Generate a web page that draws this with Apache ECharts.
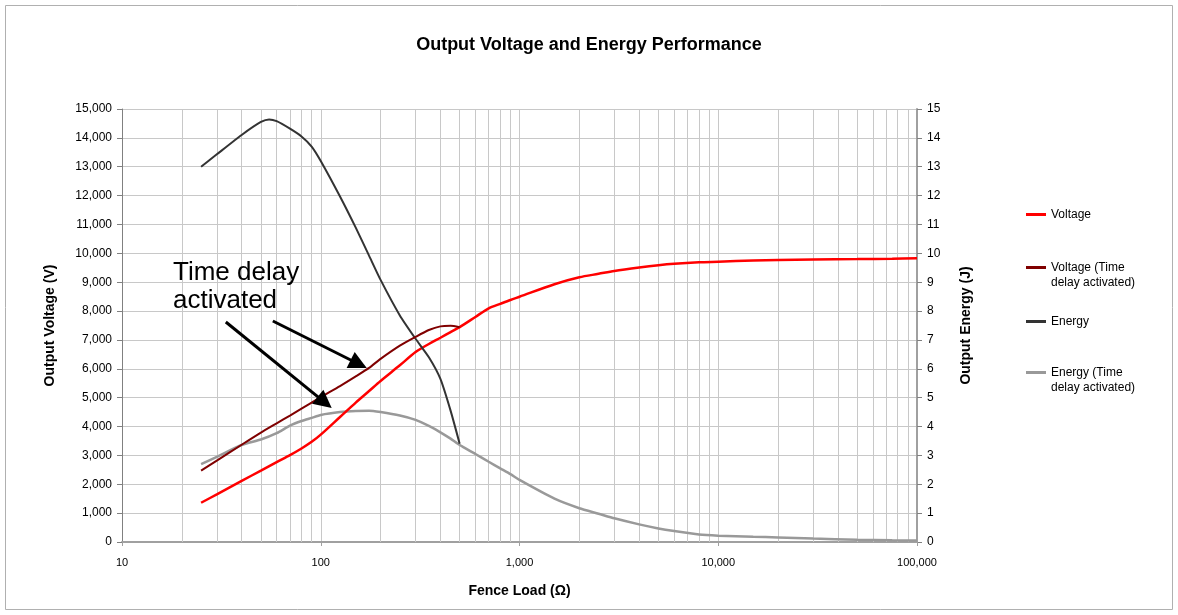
<!DOCTYPE html>
<html><head><meta charset="utf-8">
<script src="https://cdn.jsdelivr.net/npm/echarts@6/dist/echarts.min.js"></script>
<style>html,body{margin:0;padding:0;background:#fff}#c{width:1178px;height:615px}</style>
</head><body><div id="c"></div>
<script>
// Fence load (ohm) for Voltage and Energy (Time delay activated)
const loads = [25,30,40,50,60,70,80,90,100,125,150,175,200,250,300,350,400,450,500,600,700,800,900,1000,1500,2000,2500,3000,4000,5000,6000,8000,10000,15000,20000,30000,50000,75000,100000];
const voltage = [1360,1650,2115,2474,2770,3010,3240,3470,3720,4330,4830,5230,5580,6120,6580,6860,7075,7272,7445,7797,8095,8250,8385,8497,8930,9170,9290,9390,9510,9590,9640,9690,9710,9750,9770,9790,9800,9815,9830];
const energyTD = [2.70,2.95,3.36,3.55,3.77,4.03,4.19,4.30,4.40,4.50,4.54,4.55,4.50,4.38,4.23,4.02,3.80,3.58,3.36,3.05,2.78,2.55,2.35,2.15,1.50,1.17,0.98,0.82,0.61,0.47,0.38,0.26,0.22,0.18,0.16,0.12,0.08,0.06,0.05];
// Voltage (Time delay activated)
const tdLoads = [25,30,40,50,60,70,80,90,100,125,150,175,200,250,300,350,400,450,500];
const voltageTD = [2470,2820,3370,3790,4110,4380,4620,4830,5020,5400,5735,6030,6345,6803,7106,7344,7470,7490,7440];
// Energy
const energyLoads = [25,30,40,50,55,60,70,80,90,100,125,150,175,200,250,300,350,400,450,500];
const energy = [13.0,13.43,14.1,14.55,14.64,14.58,14.32,14.05,13.7,13.2,11.97,10.89,9.92,9.08,7.85,7.04,6.4,5.65,4.55,3.4];
// minor vertical grid values
const minorGridX = [20,30,40,50,60,70,80,90,200,300,400,500,600,700,800,900,2000,3000,4000,5000,6000,7000,8000,9000,20000,30000,40000,50000,60000,70000,80000,90000];
// annotation arrows [from, to] in data coords (load, volts)
const arrows = [[[33.3,7620],[104.7,4839]],[[57.4,7655],[155.2,6166]]];
const annotation = 'Time delay\nactivated';

const FONT = '"Liberation Sans", Arial, sans-serif';
const fmt = v => Number(v).toLocaleString('en-US');
const pair = (xs, ys) => xs.map((x,i)=>[x, ys[i]]);

const chart = echarts.init(document.getElementById('c'), null, {renderer:'canvas'});
const legendBase = {orient:'vertical', left:1021, itemWidth:20, itemHeight:3, icon:'rect',
  textStyle:{fontFamily:FONT, fontSize:12, color:'#000', lineHeight:15},
  formatter: n => n.indexOf(' (Time delay') >= 0 ? '\n' + n.replace(' (Time delay', ' (Time\ndelay') : n,
  selectedMode:false};
chart.setOption({
  animation:false,
  backgroundColor:'#fff',
  title:{text:'Output Voltage and Energy Performance', left:'center', top:36, padding:0,
    textStyle:{fontFamily:FONT, fontSize:18, fontWeight:'bold', color:'#000'}},
  grid:{left:122, right:261, top:109, bottom:73, containLabel:false},
  legend:[
    Object.assign({}, legendBase, {top:202, data:['Voltage']}),
    Object.assign({}, legendBase, {top:240, data:['Voltage (Time delay activated)']}),
    Object.assign({}, legendBase, {top:309, data:['Energy']}),
    Object.assign({}, legendBase, {top:345, data:['Energy (Time delay activated)']})
  ],
  xAxis:{type:'log', logBase:10, min:10, max:100000,
    name:'Fence Load (Ω)', nameLocation:'middle', nameGap:42,
    nameTextStyle:{fontFamily:FONT, fontSize:14, fontWeight:'bold', color:'#000'},
    axisLine:{lineStyle:{color:'#a0a0a0', width:2}},
    axisTick:{show:true, length:4, lineStyle:{color:'#a0a0a0'}},
    axisLabel:{fontFamily:FONT, fontSize:11, color:'#000', margin:15, formatter:v=>fmt(v)},
    splitLine:{show:true, lineStyle:{color:'#c8c8c8', width:1}}},
  yAxis:[
    {type:'value', min:0, max:15000, interval:1000, position:'left',
      name:'Output Voltage (V)', nameLocation:'middle', nameGap:65,
      nameTextStyle:{fontFamily:FONT, fontSize:14, fontWeight:'bold', color:'#000'},
      axisLine:{show:true, lineStyle:{color:'#808080', width:1}},
      axisTick:{show:true, length:5, lineStyle:{color:'#808080'}},
      axisLabel:{fontFamily:FONT, fontSize:12, color:'#000', margin:10, formatter:v=>fmt(v)},
      splitLine:{show:true, lineStyle:{color:'#c8c8c8', width:1}}},
    {type:'value', min:0, max:15, interval:1, position:'right',
      name:'Output Energy (J)', nameLocation:'middle', nameGap:42,
      nameTextStyle:{fontFamily:FONT, fontSize:14, fontWeight:'bold', color:'#000'},
      axisLine:{show:true, lineStyle:{color:'#a0a0a0', width:2}},
      axisTick:{show:true, length:5, lineStyle:{color:'#808080'}},
      axisLabel:{fontFamily:FONT, fontSize:12, color:'#000', margin:10},
      splitLine:{show:false}}
  ],
  series:[
    {type:'lines', coordinateSystem:'cartesian2d', xAxisIndex:0, yAxisIndex:0, z:1, silent:true,
      lineStyle:{color:'#c8c8c8', width:1, opacity:1},
      data:minorGridX.map(x=>({coords:[[x,0],[x,15000]]}))},
    {name:'Voltage', type:'line', yAxisIndex:0, data:pair(loads, voltage), symbol:'none', smooth:0.3,
      lineStyle:{color:'#ff0000', width:2.5}, itemStyle:{color:'#ff0000'}, z:3},
    {name:'Voltage (Time delay activated)', type:'line', yAxisIndex:0, data:pair(tdLoads, voltageTD), symbol:'none', smooth:0.2,
      lineStyle:{color:'#800000', width:2}, itemStyle:{color:'#800000'}, z:4},
    {name:'Energy', type:'line', yAxisIndex:1, data:pair(energyLoads, energy), symbol:'none', smooth:0.2,
      lineStyle:{color:'#333333', width:2}, itemStyle:{color:'#333333'}, z:3},
    {name:'Energy (Time delay activated)', type:'line', yAxisIndex:1, data:pair(loads, energyTD), symbol:'none', smooth:0.2,
      lineStyle:{color:'#999999', width:2.5}, itemStyle:{color:'#999999'}, z:2},
    {type:'lines', coordinateSystem:'cartesian2d', xAxisIndex:0, yAxisIndex:0, z:10, silent:true,
      symbol:['none','triangle'], symbolSize:[14,18],
      lineStyle:{color:'#000', width:3, opacity:1},
      data:arrows.map(a=>({coords:a}))}
  ],
  graphic:[
    {type:'rect', silent:true, shape:{x:5.5, y:5.5, width:1167, height:604}, style:{fill:'none', stroke:'#b0b0b0', lineWidth:1}, z:-1},
    {type:'text', left:173, top:259, silent:true, style:{text:annotation, fontFamily:FONT, fontSize:26, lineHeight:28, fill:'#000'}, z:20}
  ]
});
</script></body></html>
